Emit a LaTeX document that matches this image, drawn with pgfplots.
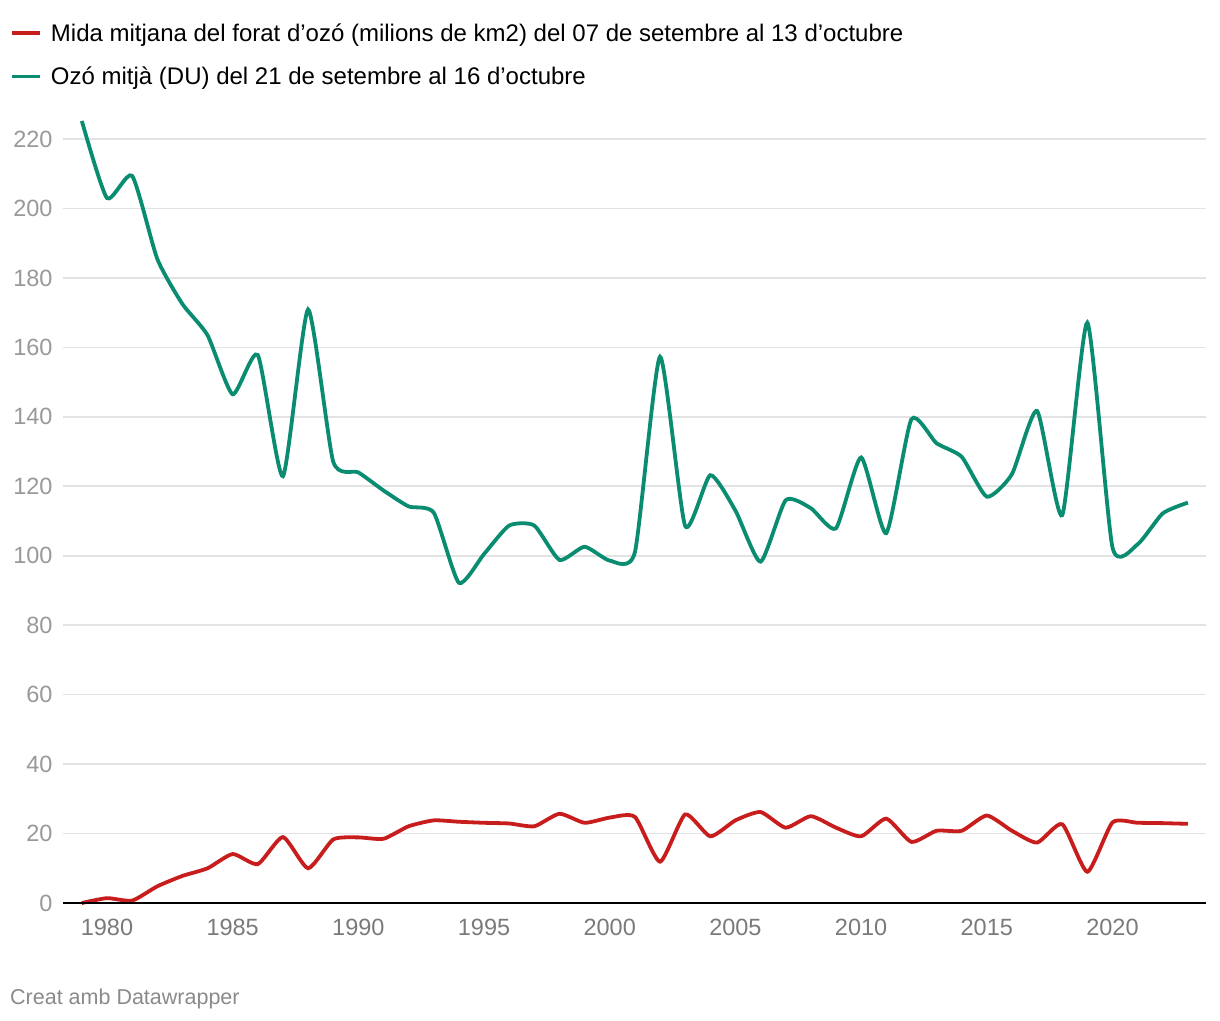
\documentclass[border=0pt]{standalone}
\usepackage{pgfplots}
\pgfplotsset{compat=1.18}
\usepackage{fontspec}
\setmainfont{Liberation Sans}
\definecolor{dwred}{HTML}{C71E1D}
\definecolor{dwgreen}{HTML}{0A8C70}
\definecolor{gridc}{HTML}{E3E3E3}
\definecolor{ylab}{HTML}{999999}
\definecolor{xlab}{HTML}{7A7A7A}
\definecolor{foot}{HTML}{8A8A8A}

\pgfplotstableread{
year val
1979 0.0
1980 1.4
1981 0.7
1982 4.8
1983 7.8
1984 10.0
1985 14.1
1986 11.2
1987 19.0
1988 10.0
1989 18.3
1990 18.9
1991 18.5
1992 22.1
1993 23.8
1994 23.4
1995 23.1
1996 22.9
1997 22.1
1998 25.7
1999 23.1
2000 24.6
2001 24.8
2002 11.9
2003 25.5
2004 19.2
2005 23.8
2006 26.2
2007 21.7
2008 25.0
2009 21.7
2010 19.2
2011 24.3
2012 17.6
2013 20.8
2014 20.8
2015 25.2
2016 20.8
2017 17.4
2018 22.7
2019 9.0
2020 23.2
2021 23.1
2022 23.0
2023 22.8
}\holesize

\pgfplotstableread{
year val
1979 225.2
1980 203.0
1981 209.4
1982 185.5
1983 172.5
1984 163.5
1985 146.5
1986 157.8
1987 122.9
1988 170.9
1989 127.1
1990 124.0
1991 118.8
1992 114.2
1993 112.4
1994 92.2
1995 100.5
1996 108.7
1997 108.7
1998 98.8
1999 102.6
2000 98.6
2001 101.0
2002 157.3
2003 108.6
2004 123.2
2005 113.0
2006 98.3
2007 116.0
2008 113.7
2009 107.9
2010 128.3
2011 106.5
2012 139.3
2013 132.4
2014 128.5
2015 117.0
2016 123.5
2017 141.7
2018 111.7
2019 167.1
2020 102.4
2021 103.3
2022 112.2
2023 115.3
}\ozone

\begin{document}
\begin{tikzpicture}
\path[use as bounding box] (0pt,0pt) rectangle (1220pt,-1020pt);
\begin{axis}[
  at={(63pt,-903pt)}, anchor=south west,
  scale only axis, width=1143pt, height=798.7pt,
  xmin=1978.25, xmax=2023.72, ymin=0, ymax=230,
  clip=false,
  axis line style={draw=none},
  major tick length=0pt,
  ymajorgrids, grid style={gridc, line width=1.6pt},
  ytick={0,20,...,220},
  xtick={1980,1985,...,2020},
  /pgf/number format/.cd, set thousands separator={}, assume math mode=true,
  /pgfplots/.cd,
  tick label style={font=\fontsize{23.5}{27}\selectfont},
  yticklabel style={text=ylab, xshift=-7pt},
  xticklabel style={text=xlab, yshift=-13pt},
  legend style={at={(axis description cs:-0.0464,1.1037)}, anchor=north west,
    draw=none, fill=none, inner sep=0pt, row sep=20pt,
    font=\fontsize{24}{28}\selectfont,
    cells={anchor=west}},
  legend image code/.code={\draw[#1, line width=3.8pt] (0pt,0pt) -- (28pt,0pt); \path (35pt,0pt);},
]
\addplot[dwred, line width=3.8pt, smooth, tension=0.35] table[x=year,y=val] {\holesize};
\addlegendentry{Mida mitjana del forat d'ozó (milions de km2) del 07 de setembre al 13 d'octubre}
\addplot[dwgreen, line width=3.8pt, smooth, tension=0.35] table[x=year,y=val] {\ozone};
\addlegendentry{Ozó mitjà (DU) del 21 de setembre al 16 d'octubre}
\draw[black, line width=2.4pt] (axis cs:1978.25,0) -- (axis cs:2023.72,0);
\end{axis}
\node[anchor=base west, inner sep=0pt, text=foot, font=\fontsize{21.5}{25}\selectfont] at (10pt,-1004pt) {Creat amb Datawrapper};
\end{tikzpicture}
\end{document}
